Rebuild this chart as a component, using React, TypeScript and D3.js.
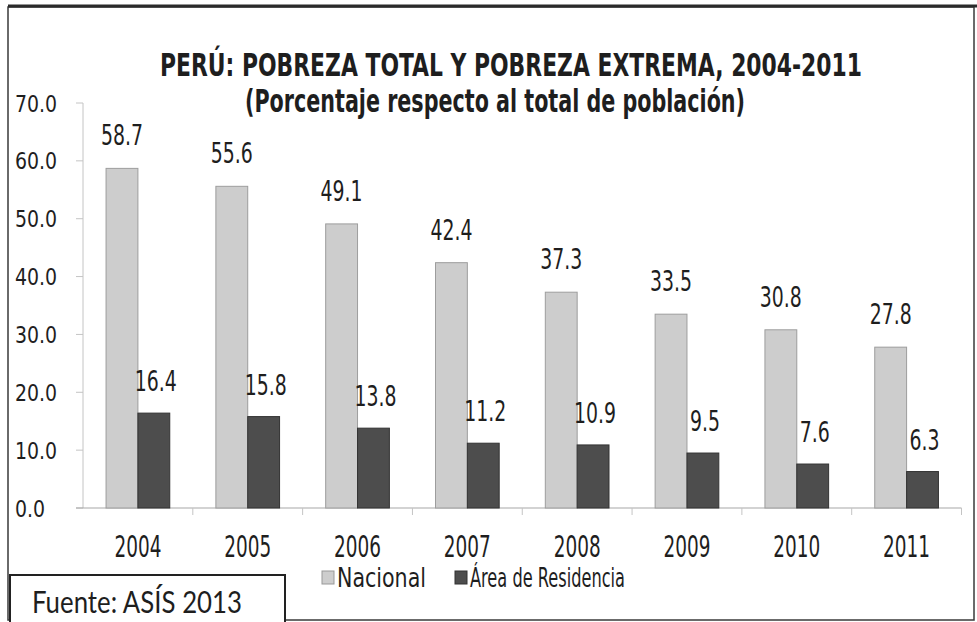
import React from "react";
import * as d3 from "d3";

// PERÚ: pobreza total y extrema, 2004-2011
const years = ["2004", "2005", "2006", "2007", "2008", "2009", "2010", "2011"];
const nacional = [58.7, 55.6, 49.1, 42.4, 37.3, 33.5, 30.8, 27.8];
const areaResidencia = [16.4, 15.8, 13.8, 11.2, 10.9, 9.5, 7.6, 6.3];
const yTicks = [0, 10, 20, 30, 40, 50, 60, 70];
const seriesNames = ["Nacional", "Área de Residencia"];

const W = 977;
const H = 622;
const COND = "'DejaVu Sans Condensed', 'Liberation Sans Narrow', sans-serif";

const x = d3.scaleBand().domain(years).range([83, 961.5]).paddingInner(0.42).paddingOuter(0.21);
const y = d3.scaleLinear().domain([0, 70]).range([508, 103]);

const LIGHT = "#cdcdcd";
const DARK = "#4d4d4d";

// texto deformado para imitar la fuente estrecha del escaneo
function Txt({ x, y, size, children, anchor = "middle", sx = 1, sy = 1.15, weight = "normal", len, family = COND, fill = "#1e1e1e" }: any) {
  return (
    <g transform={`translate(${x},${y}) scale(${sx},${sy})`}>
      <text
        fontFamily={family}
        fontSize={size}
        fontWeight={weight}
        textAnchor={anchor}
        fill={fill}
        textLength={len}
        lengthAdjust={len ? "spacingAndGlyphs" : undefined}
      >
        {children}
      </text>
    </g>
  );
}

export default function App() {
  const bw = x.bandwidth() / 2;
  return (
    <svg width={W} height={H} style={{ position: "absolute", left: 0, top: 0, background: "#fff" }}>
      <rect x={0} y={0} width={W} height={H} fill="#fff" />
      {/* marco */}
      <rect x={8} y={7} width={966} height={613} fill="none" stroke="#3a3a3a" strokeWidth={1.5} />
      <line x1={8} x2={977} y1={6} y2={6} stroke="#2a2a2a" strokeWidth={3} />

      <Txt x={511} y={76} size={24} sy={1.3} weight="bold" len={702}>PERÚ: POBREZA TOTAL Y POBREZA EXTREMA, 2004-2011</Txt>
      <Txt x={495} y={112} size={24} sy={1.3} weight="bold" len={500}>(Porcentaje respecto al total de población)</Txt>

      {/* eje y */}
      <line x1={83} x2={83} y1={y(70)} y2={y(0)} stroke="#c4c4c4" />
      {yTicks.map((t) => (
        <g key={t}>
          <line x1={76} x2={83} y1={y(t)} y2={y(t)} stroke="#c4c4c4" />
          <Txt x={15} y={y(t) + 8.5} size={22} sx={0.955} sy={1.06} anchor="start">
            {t.toFixed(1)}
          </Txt>
        </g>
      ))}

      {/* eje x */}
      <line x1={76} x2={961.5} y1={y(0)} y2={y(0)} stroke="#a8a8a8" strokeWidth={1.2} />
      {x.domain().map((d, i) => (
        <line key={d} x1={x.step() * (i + 1) + 83} x2={x.step() * (i + 1) + 83} y1={y(0)} y2={y(0) + 7} stroke="#c4c4c4" />
      ))}

      {years.map((yr, i) => {
        const x0 = x(yr)!;
        return (
          <g key={yr}>
            <rect x={x0} y={y(nacional[i])} width={bw} height={y(0) - y(nacional[i])} fill={LIGHT} stroke="#9d9d9d" strokeWidth={1} />
            <rect x={x0 + bw} y={y(areaResidencia[i])} width={bw} height={y(0) - y(areaResidencia[i])} fill={DARK} stroke="#333" strokeWidth={1} />
            <Txt x={x0 + bw / 2} y={y(nacional[i]) - 23} size={24} sx={0.875} sy={1.2}>{nacional[i].toFixed(1)}</Txt>
            <Txt x={x0 + bw * 1.5 + 2} y={y(areaResidencia[i]) - 22} size={24} sx={0.875} sy={1.2}>{areaResidencia[i].toFixed(1)}</Txt>
            <Txt x={x0 + bw} y={557} size={24} sx={0.855} sy={1.26}>{yr}</Txt>
          </g>
        );
      })}

      {/* leyenda */}
      <rect x={322} y={571} width={12} height={13} fill={LIGHT} stroke="#999" />
      <Txt x={337} y={587} size={22} sy={1.2} anchor="start" len={89}>{seriesNames[0]}</Txt>
      <rect x={455} y={571} width={12} height={13} fill={DARK} stroke="#333" />
      <Txt x={470} y={587} size={22} sy={1.2} anchor="start" len={155}>{seriesNames[1]}</Txt>

      {/* fuente */}
      <rect x={10} y={575} width={275} height={60} fill="#fff" stroke="#222" strokeWidth={2} />
      <Txt x={32} y={613} size={24} sy={1.3} anchor="start" family="Lato, 'Open Sans', sans-serif" len={210}>Fuente: ASÍS 2013</Txt>
    </svg>
  );
}
